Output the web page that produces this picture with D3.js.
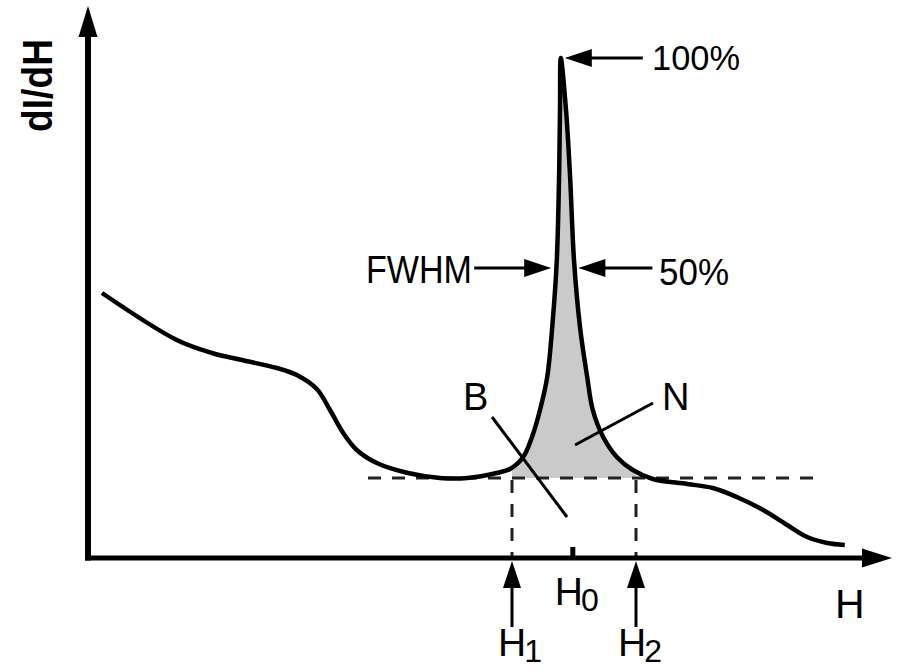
<!DOCTYPE html>
<html>
<head>
<meta charset="utf-8">
<script src="https://cdn.jsdelivr.net/npm/d3@7/dist/d3.min.js"></script>
<style>
  body { margin: 0; background: #fff; }
  svg { display: block; }
  text { font-family: "Liberation Sans", Arial, Helvetica, sans-serif; fill: #000; }
</style>
</head>
<body>
<script>

var width = 897, height = 671;

// curve (H in arbitrary units, dI/dH in % of peak)
var curveH = [1.75, 11.1, 15.5, 19.5, 23.6, 26.1, 28.6, 30.25, 31.9, 33.6, 36.1, 40, 44, 47.4,
    51.1, 52.75, 54.4, 55.5, 56.5, 57.4, 58.1, 58.6, 58.9, 59.0, 59.1,
    59.75, 60.25, 60.75, 61.5, 62.4, 63.1, 64.4, 66.1, 68.1,
    70.6, 74.9, 78.1, 81.1, 84.4, 87.4, 89.9, 92.4, 94.6];
var curveI = [53, 43.6, 41, 39.5, 38, 36.6, 33.8, 29.6, 25, 21.6, 19, 17, 16, 16,
    17, 17.8, 20.2, 24.2, 29.6, 36.2, 47.6, 59.6, 77.6, 89.6, 100,
    89.6, 76.6, 59.6, 46.2, 36.2, 29.6, 24.2, 20.2, 17.6,
    15.8, 14.8, 14, 12.2, 9.6, 6.6, 4.2, 3, 2.6];

var markerNames = ["1", "0", "2"];
var markerValues = [53, 60.6, 68.5];

var baseline = 16;        // background level
var peakLevel = 100;
var halfLevel = 58;       // half way between background and peak
var halfLeft = 58.4, halfRight = 60.8;
var baselineFrom = 35, baselineTo = 91;

var points = curveH.map(function(h, i){ return {h: h, v: curveI[i]}; });

var x = d3.scaleLinear().domain([0, 100]).range([88, 888]);
var y = d3.scaleLinear().domain([0, 100]).range([558, 58]);

var svg = d3.select("body").append("svg")
    .attr("width", width)
    .attr("height", height);

// shaded peak area between H1 and H2
svg.append("clipPath")
    .attr("id", "peakClip")
  .append("rect")
    .attr("x", x(markerValues[0]))
    .attr("y", 0)
    .attr("width", x(markerValues[2]) - x(markerValues[0]))
    .attr("height", y(baseline));

var area = d3.area()
    .x(function(d){ return x(d.h); })
    .y0(y(baseline))
    .y1(function(d){ return y(d.v); })
    .curve(d3.curveCatmullRom.alpha(0.5));

svg.append("path")
    .attr("d", area(points))
    .attr("clip-path", "url(#peakClip)")
    .style("fill", "#c9cac9");

// dashed background line and the H1 / H2 drop lines
svg.append("line")
    .attr("x1", x(baselineFrom)).attr("x2", x(baselineTo))
    .attr("y1", y(baseline)).attr("y2", y(baseline))
    .style("stroke", "#222").style("stroke-width", 3)
    .style("stroke-dasharray", "13,11");

svg.selectAll(".drop")
    .data([markerValues[0], markerValues[2]])
    .enter().append("line")
    .attr("class", "drop")
    .attr("x1", function(d){ return x(d); }).attr("x2", function(d){ return x(d); })
    .attr("y1", y(baseline) + 2).attr("y2", y(0))
    .style("stroke", "#222").style("stroke-width", 3)
    .style("stroke-dasharray", "13,11");

// B and N pointers
svg.append("line")
    .attr("x1", 492).attr("y1", 417).attr("x2", 567).attr("y2", 517)
    .style("stroke", "#000").style("stroke-width", 3);
svg.append("line")
    .attr("x1", 653).attr("y1", 403).attr("x2", 575).attr("y2", 445)
    .style("stroke", "#000").style("stroke-width", 3);

// the curve
var line = d3.line()
    .x(function(d){ return x(d.h); })
    .y(function(d){ return y(d.v); })
    .curve(d3.curveCatmullRom.alpha(0.5));

svg.append("path")
    .attr("d", line(points))
    .style("fill", "none")
    .style("stroke", "#000")
    .style("stroke-width", 4.5)
    .style("stroke-linejoin", "miter");

// axes with arrow heads
svg.append("line")
    .attr("x1", x(0)).attr("x2", x(0))
    .attr("y1", y(0) + 2.5).attr("y2", 30)
    .style("stroke", "#000").style("stroke-width", 6);
svg.append("path")
    .attr("d", "M" + x(0) + ",6 L" + (x(0) + 9.5) + ",37 L" + (x(0) - 9.5) + ",37 Z")
    .style("fill", "#000");

svg.append("line")
    .attr("x1", x(0) - 3).attr("x2", 870)
    .attr("y1", y(0)).attr("y2", y(0))
    .style("stroke", "#000").style("stroke-width", 5);
svg.append("path")
    .attr("d", "M892," + y(0) + " L862," + (y(0) - 9.5) + " L862," + (y(0) + 9.5) + " Z")
    .style("fill", "#000");

// H0 tick
svg.append("line")
    .attr("x1", x(markerValues[1])).attr("x2", x(markerValues[1]))
    .attr("y1", y(0) - 11).attr("y2", y(0))
    .style("stroke", "#000").style("stroke-width", 5);

// helper for arrows: tip, direction and shaft length
function arrow(tx, ty, dx, dy, len) {
    var hl = 27, hw = 9;
    var px = -dy, py = dx;
    svg.append("line")
        .attr("x1", tx + dx * hl * 0.8).attr("y1", ty + dy * hl * 0.8)
        .attr("x2", tx + dx * len).attr("y2", ty + dy * len)
        .style("stroke", "#000").style("stroke-width", 3);
    svg.append("path")
        .attr("d", "M" + tx + "," + ty +
            " L" + (tx + dx * hl + px * hw) + "," + (ty + dy * hl + py * hw) +
            " L" + (tx + dx * hl - px * hw) + "," + (ty + dy * hl - py * hw) + " Z")
        .style("fill", "#000");
}

arrow(x(59.1) + 4, y(peakLevel), 1, 0, 78);
arrow(x(halfLeft) - 4, y(halfLevel), -1, 0, 77);
arrow(x(halfRight) + 4, y(halfLevel), 1, 0, 74);
arrow(x(markerValues[0]), y(0) + 3, 0, 1, 66);
arrow(x(markerValues[2]), y(0) + 3, 0, 1, 66);

// labels
svg.append("text")
    .attr("transform", "translate(52,132) rotate(-90)")
    .attr("textLength", 93).attr("lengthAdjust", "spacingAndGlyphs")
    .style("font-size", "42px").style("font-weight", "bold")
    .text("dI/dH");

svg.append("text").attr("x", 835).attr("y", 618)
    .style("font-size", "41px").text("H");

svg.append("text").attr("x", 652).attr("y", 70)
    .attr("textLength", 88).attr("lengthAdjust", "spacingAndGlyphs")
    .style("font-size", "35px").text("100%");

svg.append("text").attr("x", 659).attr("y", 285)
    .attr("textLength", 70).attr("lengthAdjust", "spacingAndGlyphs")
    .style("font-size", "37px").text("50%");

svg.append("text").attr("x", 366).attr("y", 283)
    .attr("textLength", 106).attr("lengthAdjust", "spacingAndGlyphs")
    .style("font-size", "38px").text("FWHM");

svg.append("text").attr("x", 463).attr("y", 410)
    .style("font-size", "38px").text("B");
svg.append("text").attr("x", 662).attr("y", 410)
    .style("font-size", "38px").text("N");

var subLabels = [
    {sub: markerNames[0], h: markerValues[0], dx: -14, y: 656},
    {sub: markerNames[1], h: markerValues[1], dx: -18, y: 605},
    {sub: markerNames[2], h: markerValues[2], dx: -18, y: 656}
];

subLabels.forEach(function(d){
    var t = svg.append("text")
        .attr("x", x(d.h) + d.dx)
        .attr("y", d.y)
        .style("font-size", "39px");
    t.append("tspan").text("H");
    t.append("tspan")
        .attr("dx", -2).attr("dy", 6)
        .style("font-size", "32px")
        .text(d.sub);
});

</script>
</body>
</html>
